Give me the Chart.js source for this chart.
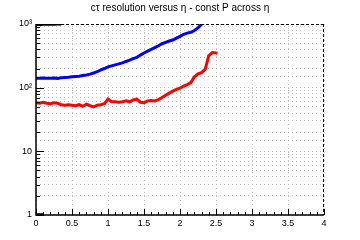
<!DOCTYPE html>
<html>
<head>
<meta charset="utf-8">
<script src="https://cdn.jsdelivr.net/npm/chart.js@4"></script>
<style>
  html, body { margin: 0; padding: 0; background: #fff; }
  #wrap { width: 360px; height: 240px; }
</style>
</head>
<body>
<div id="wrap"><canvas id="chart" width="360" height="240"></canvas></div>
<script>
// ── Data ─────────────────────────────────────────────────────────────────────
const TITLE = 'cτ resolution versus η - const P across η';

const blueEta = [0, 0.05, 0.1, 0.15, 0.2, 0.25, 0.3, 0.35, 0.4, 0.45, 0.5, 0.55, 0.6, 0.65, 0.7,
  0.75, 0.8, 0.85, 0.9, 0.95, 1.0, 1.05, 1.1, 1.15, 1.2, 1.25, 1.3, 1.35, 1.4, 1.45, 1.5,
  1.55, 1.6, 1.65, 1.7, 1.75, 1.8, 1.85, 1.9, 1.95, 2.0, 2.05, 2.1, 2.15, 2.2, 2.25, 2.3];
const blueRes = [141, 140, 142, 140, 141, 142, 140, 143, 145, 146, 148, 150, 151, 155, 158,
  163, 170, 178, 190, 200, 212, 220, 228, 236, 245, 258, 270, 285, 300, 325, 350,
  375, 400, 425, 455, 490, 515, 540, 560, 600, 640, 690, 720, 740, 790, 870, 990];

const redEta = [0, 0.05, 0.1, 0.15, 0.2, 0.25, 0.3, 0.35, 0.4, 0.45, 0.5, 0.55, 0.6, 0.65, 0.7,
  0.75, 0.8, 0.85, 0.9, 0.95, 1.0, 1.05, 1.1, 1.15, 1.2, 1.25, 1.3, 1.35, 1.4, 1.45, 1.5,
  1.55, 1.6, 1.65, 1.7, 1.75, 1.8, 1.85, 1.9, 1.95, 2.0, 2.05, 2.1, 2.15, 2.2, 2.25, 2.3,
  2.35, 2.4, 2.45, 2.5, 2.52];
const redRes = [58, 57, 59, 57, 56, 58, 57, 54, 53, 54, 53, 52, 54, 51, 55,
  52, 50, 53, 54, 56, 66, 60, 60, 59, 60, 62, 60, 64, 66, 59, 58,
  62, 63, 62, 65, 70, 76, 82, 88, 94, 98, 106, 112, 120, 148, 165, 172,
  195, 320, 355, 352, 348];

const blackEta = [0, 0.05, 0.1, 0.15, 0.2, 0.25, 0.3, 0.35];
const blackRes = [985, 986, 988, 990, 992, 994, 998, 1000];

const lowEta = [0, 0.05, 0.1];
const lowRes = [1.01, 1.01, 1.01];

const xTicks = [0, 0.5, 1, 1.5, 2, 2.5, 3, 3.5, 4];
const yLabels = { 1: '1', 10: '10', 100: '10²', 1000: '10³' };

const FONT = '"Liberation Sans", Arial, sans-serif';

function pts(xs, ys) {
  return xs.map((x, i) => ({ x, y: ys[i] }));
}

// ── ROOT-style frame, inward ticks and title ────────────────────────────────
const rootFrame = {
  id: 'rootFrame',
  beforeDraw(chart) {
    const ctx = chart.ctx;
    ctx.save();
    ctx.fillStyle = '#fff';
    ctx.fillRect(0, 0, chart.width, chart.height);
    ctx.restore();
  },
  afterDraw(chart) {
    const { ctx, chartArea: a, scales } = chart;
    const xs = scales.x, ys = scales.y;
    ctx.save();
    ctx.strokeStyle = '#000';
    ctx.lineWidth = 1;

    // dashed top / right edges
    ctx.setLineDash([3, 2]);
    ctx.beginPath();
    ctx.moveTo(a.left, a.top + 0.5); ctx.lineTo(a.right, a.top + 0.5);
    ctx.moveTo(a.right - 0.5, a.top); ctx.lineTo(a.right - 0.5, a.bottom);
    ctx.stroke();
    ctx.setLineDash([]);

    // solid axes
    ctx.lineWidth = 1.5;
    ctx.beginPath();
    ctx.moveTo(a.left, a.top); ctx.lineTo(a.left, a.bottom);
    ctx.lineTo(a.right, a.bottom);
    ctx.stroke();

    // x ticks (inward)
    ctx.lineWidth = 1;
    ctx.beginPath();
    for (let v = 0; v <= 40; v++) {
      const px = Math.round(xs.getPixelForValue(v / 10)) + 0.5;
      const len = v % 5 === 0 ? 6 : 3;
      ctx.moveTo(px, a.bottom); ctx.lineTo(px, a.bottom - len);
    }
    // y ticks (inward, log)
    for (let d = 1; d <= 100; d *= 10) {
      for (let m = 1; m <= 9; m++) {
        const py = Math.round(ys.getPixelForValue(d * m)) + 0.5;
        const len = m === 1 ? 8 : 4;
        ctx.moveTo(a.left, py); ctx.lineTo(a.left + len, py);
      }
    }
    ctx.moveTo(a.left, a.top + 0.5); ctx.lineTo(a.left + 8, a.top + 0.5);
    ctx.stroke();

    // title
    ctx.fillStyle = '#000';
    ctx.font = '10px ' + FONT;
    ctx.textAlign = 'center';
    ctx.textBaseline = 'middle';
    ctx.fillText(TITLE, 180, 8);
    ctx.restore();
  }
};

// ── Chart ───────────────────────────────────────────────────────────────────
const series = [
  { data: pts(blueEta, blueRes), color: '#0000ff' },
  { data: pts(redEta, redRes), color: '#ff0000' },
  { data: pts(blackEta, blackRes), color: '#000000' },
  { data: pts(lowEta, lowRes), color: '#000000' },
];

const gridOpts = { color: '#c4c4c4', lineWidth: 1, drawTicks: false, tickLength: 0 };

new Chart(document.getElementById('chart'), {
  type: 'line',
  data: {
    datasets: series.map(s => ({
      data: s.data,
      borderColor: s.color,
      borderWidth: 3,
      pointRadius: 0,
      tension: 0,
      fill: false,
    })),
  },
  options: {
    responsive: false,
    animation: false,
    events: [],
    layout: { padding: { top: 24, right: 36, left: 0, bottom: 0 } },
    plugins: { legend: { display: false }, tooltip: { enabled: false }, title: { display: false } },
    scales: {
      x: {
        type: 'linear',
        min: 0, max: 4,
        afterFit: s => { s.height = 25; },
        afterBuildTicks: s => { s.ticks = xTicks.map(v => ({ value: v })); },
        border: { display: false, dash: [1, 3] },
        grid: gridOpts,
        ticks: {
          color: '#000', padding: 3, maxRotation: 0,
          font: { family: FONT, size: 9 },
          callback: v => String(v),
        },
      },
      y: {
        type: 'logarithmic',
        min: 1, max: 1000,
        afterFit: s => { s.width = 36; },
        border: { display: false, dash: [1, 3] },
        grid: gridOpts,
        ticks: {
          color: '#000', padding: 4, autoSkip: false,
          font: { family: FONT, size: 9 },
          callback: v => yLabels[v] || '',
        },
      },
    },
  },
  plugins: [rootFrame],
});
</script>
</body>
</html>
